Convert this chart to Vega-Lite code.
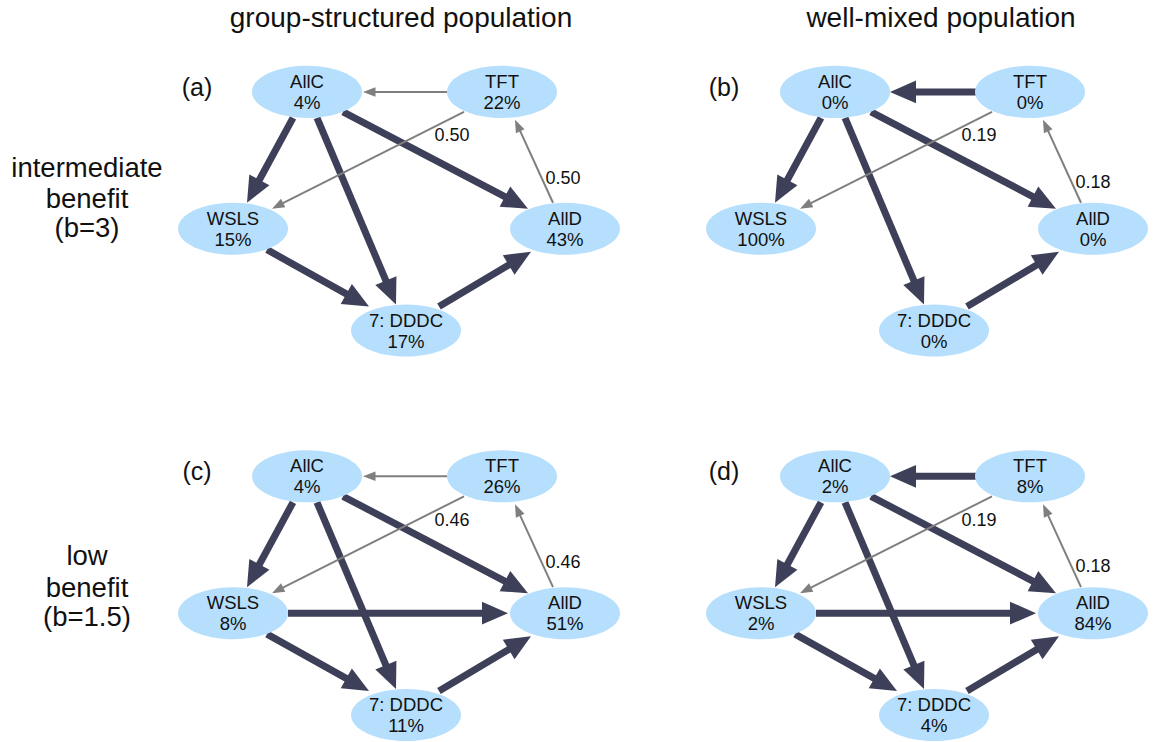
{
  "$schema": "https://vega.github.io/schema/vega-lite/v6.json",
  "width": 1157,
  "height": 742,
  "autosize": {"type": "fit", "contains": "padding"},
  "padding": 0,
  "background": "white",
  "config": {"view": {"stroke": null}, "text": {"font": "Liberation Sans"}},
  "datasets": {
    "nodes": [
      {"p": "a", "name": "AllC", "pct": "4%", "x": 307, "y": 92},
      {"p": "a", "name": "TFT", "pct": "22%", "x": 502, "y": 92},
      {"p": "a", "name": "WSLS", "pct": "15%", "x": 233, "y": 229},
      {"p": "a", "name": "AllD", "pct": "43%", "x": 565, "y": 229},
      {"p": "a", "name": "7: DDDC", "pct": "17%", "x": 406, "y": 331},
      {"p": "b", "name": "AllC", "pct": "0%", "x": 835, "y": 92},
      {"p": "b", "name": "TFT", "pct": "0%", "x": 1030, "y": 92},
      {"p": "b", "name": "WSLS", "pct": "100%", "x": 761, "y": 229},
      {"p": "b", "name": "AllD", "pct": "0%", "x": 1093, "y": 229},
      {"p": "b", "name": "7: DDDC", "pct": "0%", "x": 934, "y": 331},
      {"p": "c", "name": "AllC", "pct": "4%", "x": 307, "y": 477},
      {"p": "c", "name": "TFT", "pct": "26%", "x": 502, "y": 477},
      {"p": "c", "name": "WSLS", "pct": "8%", "x": 233, "y": 614},
      {"p": "c", "name": "AllD", "pct": "51%", "x": 565, "y": 614},
      {"p": "c", "name": "7: DDDC", "pct": "11%", "x": 406, "y": 716},
      {"p": "d", "name": "AllC", "pct": "2%", "x": 835, "y": 477},
      {"p": "d", "name": "TFT", "pct": "8%", "x": 1030, "y": 477},
      {"p": "d", "name": "WSLS", "pct": "2%", "x": 761, "y": 614},
      {"p": "d", "name": "AllD", "pct": "84%", "x": 1093, "y": 614},
      {"p": "d", "name": "7: DDDC", "pct": "4%", "x": 934, "y": 716}
    ],
    "edges": [
      {"p": "a", "from": "TFT", "to": "AllC", "w": "thin", "xs": 447, "ys": 92, "xt": 363, "yt": 92},
      {"p": "a", "from": "TFT", "to": "WSLS", "w": "thin", "xs": 464, "ys": 112, "xt": 272, "yt": 209},
      {"p": "a", "from": "AllD", "to": "TFT", "w": "thin", "xs": 553, "ys": 203, "xt": 515, "yt": 120},
      {"p": "a", "from": "AllC", "to": "WSLS", "w": "thick", "xs": 293, "ys": 118, "xt": 247, "yt": 203},
      {"p": "a", "from": "AllC", "to": "DDDC", "w": "thick", "xs": 317, "ys": 118, "xt": 396, "yt": 305},
      {"p": "a", "from": "AllC", "to": "AllD", "w": "thick", "xs": 343, "ys": 112, "xt": 528, "yt": 209},
      {"p": "a", "from": "WSLS", "to": "DDDC", "w": "thick", "xs": 267, "ys": 250, "xt": 369, "yt": 307},
      {"p": "a", "from": "DDDC", "to": "AllD", "w": "thick", "xs": 439, "ys": 307, "xt": 531, "yt": 252},
      {"p": "b", "from": "TFT", "to": "AllC", "w": "thick", "xs": 976, "ys": 92, "xt": 890, "yt": 92},
      {"p": "b", "from": "TFT", "to": "WSLS", "w": "thin", "xs": 992, "ys": 112, "xt": 800, "yt": 209},
      {"p": "b", "from": "AllD", "to": "TFT", "w": "thin", "xs": 1081, "ys": 203, "xt": 1043, "yt": 120},
      {"p": "b", "from": "AllC", "to": "WSLS", "w": "thick", "xs": 821, "ys": 118, "xt": 775, "yt": 203},
      {"p": "b", "from": "AllC", "to": "DDDC", "w": "thick", "xs": 845, "ys": 118, "xt": 924, "yt": 305},
      {"p": "b", "from": "AllC", "to": "AllD", "w": "thick", "xs": 871, "ys": 112, "xt": 1056, "yt": 209},
      {"p": "b", "from": "DDDC", "to": "AllD", "w": "thick", "xs": 967, "ys": 307, "xt": 1059, "yt": 252},
      {"p": "c", "from": "TFT", "to": "AllC", "w": "thin", "xs": 447, "ys": 477, "xt": 363, "yt": 477},
      {"p": "c", "from": "TFT", "to": "WSLS", "w": "thin", "xs": 464, "ys": 497, "xt": 272, "yt": 594},
      {"p": "c", "from": "AllD", "to": "TFT", "w": "thin", "xs": 553, "ys": 588, "xt": 515, "yt": 505},
      {"p": "c", "from": "AllC", "to": "WSLS", "w": "thick", "xs": 293, "ys": 503, "xt": 247, "yt": 588},
      {"p": "c", "from": "AllC", "to": "DDDC", "w": "thick", "xs": 317, "ys": 503, "xt": 396, "yt": 690},
      {"p": "c", "from": "AllC", "to": "AllD", "w": "thick", "xs": 343, "ys": 497, "xt": 528, "yt": 594},
      {"p": "c", "from": "WSLS", "to": "DDDC", "w": "thick", "xs": 267, "ys": 635, "xt": 369, "yt": 692},
      {"p": "c", "from": "DDDC", "to": "AllD", "w": "thick", "xs": 439, "ys": 692, "xt": 531, "yt": 637},
      {"p": "c", "from": "WSLS", "to": "AllD", "w": "thick", "xs": 288, "ys": 614, "xt": 508, "yt": 614},
      {"p": "d", "from": "TFT", "to": "AllC", "w": "thick", "xs": 976, "ys": 477, "xt": 890, "yt": 477},
      {"p": "d", "from": "TFT", "to": "WSLS", "w": "thin", "xs": 992, "ys": 497, "xt": 800, "yt": 594},
      {"p": "d", "from": "AllD", "to": "TFT", "w": "thin", "xs": 1081, "ys": 588, "xt": 1043, "yt": 505},
      {"p": "d", "from": "AllC", "to": "WSLS", "w": "thick", "xs": 821, "ys": 503, "xt": 775, "yt": 588},
      {"p": "d", "from": "AllC", "to": "DDDC", "w": "thick", "xs": 845, "ys": 503, "xt": 924, "yt": 690},
      {"p": "d", "from": "AllC", "to": "AllD", "w": "thick", "xs": 871, "ys": 497, "xt": 1056, "yt": 594},
      {"p": "d", "from": "WSLS", "to": "DDDC", "w": "thick", "xs": 795, "ys": 635, "xt": 897, "yt": 692},
      {"p": "d", "from": "DDDC", "to": "AllD", "w": "thick", "xs": 967, "ys": 692, "xt": 1059, "yt": 637},
      {"p": "d", "from": "WSLS", "to": "AllD", "w": "thick", "xs": 816, "ys": 614, "xt": 1036, "yt": 614}
    ],
    "edgeLabels": [
      {"p": "a", "text": "0.50", "x": 452, "y": 141},
      {"p": "a", "text": "0.50", "x": 563, "y": 184},
      {"p": "b", "text": "0.19", "x": 979, "y": 141},
      {"p": "b", "text": "0.18", "x": 1093, "y": 188},
      {"p": "c", "text": "0.46", "x": 452, "y": 527},
      {"p": "c", "text": "0.46", "x": 563, "y": 569},
      {"p": "d", "text": "0.19", "x": 979, "y": 527},
      {"p": "d", "text": "0.18", "x": 1093, "y": 573}
    ],
    "annotations": [
      {"kind": "title", "text": "group-structured population", "x": 401, "y": 27},
      {"kind": "title", "text": "well-mixed population", "x": 941, "y": 27},
      {"kind": "row", "text": "intermediate", "x": 87, "y": 177},
      {"kind": "row", "text": "benefit", "x": 87, "y": 208},
      {"kind": "row", "text": "(b=3)", "x": 87, "y": 237},
      {"kind": "row", "text": "low", "x": 87, "y": 566},
      {"kind": "row", "text": "benefit", "x": 87, "y": 598},
      {"kind": "row", "text": "(b=1.5)", "x": 87, "y": 627},
      {"kind": "letter", "text": "(a)", "x": 197, "y": 96},
      {"kind": "letter", "text": "(b)", "x": 724, "y": 96},
      {"kind": "letter", "text": "(c)", "x": 197, "y": 481},
      {"kind": "letter", "text": "(d)", "x": 724, "y": 481}
    ]
  },
  "layer": [
    {
      "data": {"name": "edges"},
      "transform": [
        {"filter": "datum.w === 'thick'"},
        {"calculate": "datum.xt - datum.xs", "as": "dx"},
        {"calculate": "datum.yt - datum.ys", "as": "dy"},
        {"calculate": "sqrt(datum.dx * datum.dx + datum.dy * datum.dy)", "as": "len"},
        {"calculate": "datum.xt - 23 * datum.dx / datum.len", "as": "xe"},
        {"calculate": "datum.yt - 23 * datum.dy / datum.len", "as": "ye"}
      ],
      "mark": {"type": "rule", "color": "#3e3f58", "strokeWidth": 7, "strokeCap": "butt"},
      "encoding": {
        "x": {"field": "xs", "type": "quantitative", "scale": {"domain": [0, 1157], "nice": false, "zero": false}, "axis": null},
        "y": {"field": "ys", "type": "quantitative", "scale": {"domain": [0, 742], "nice": false, "zero": false, "reverse": true}, "axis": null},
        "x2": {"field": "xe"},
        "y2": {"field": "ye"}
      }
    },
    {
      "data": {"name": "edges"},
      "transform": [
        {"filter": "datum.w === 'thick'"},
        {"calculate": "datum.xt - datum.xs", "as": "dx"},
        {"calculate": "datum.yt - datum.ys", "as": "dy"},
        {"calculate": "atan2(datum.dx, -datum.dy) * 180 / PI", "as": "ang"}
      ],
      "mark": {"type": "point", "shape": "M0,0L-0.44,1L0.44,1Z", "size": 2704, "filled": true, "color": "#3e3f58", "opacity": 1, "strokeWidth": 0},
      "encoding": {
        "x": {"field": "xt", "type": "quantitative", "scale": {"domain": [0, 1157], "nice": false, "zero": false}, "axis": null},
        "y": {"field": "yt", "type": "quantitative", "scale": {"domain": [0, 742], "nice": false, "zero": false, "reverse": true}, "axis": null},
        "angle": {"field": "ang", "type": "quantitative", "scale": null}
      }
    },
    {
      "data": {"name": "edges"},
      "transform": [
        {"filter": "datum.w === 'thin'"},
        {"calculate": "datum.xt - datum.xs", "as": "dx"},
        {"calculate": "datum.yt - datum.ys", "as": "dy"},
        {"calculate": "sqrt(datum.dx * datum.dx + datum.dy * datum.dy)", "as": "len"},
        {"calculate": "datum.xt - 10 * datum.dx / datum.len", "as": "xe"},
        {"calculate": "datum.yt - 10 * datum.dy / datum.len", "as": "ye"}
      ],
      "mark": {"type": "rule", "color": "#7f7f7f", "strokeWidth": 2, "strokeCap": "butt"},
      "encoding": {
        "x": {"field": "xs", "type": "quantitative", "scale": {"domain": [0, 1157], "nice": false, "zero": false}, "axis": null},
        "y": {"field": "ys", "type": "quantitative", "scale": {"domain": [0, 742], "nice": false, "zero": false, "reverse": true}, "axis": null},
        "x2": {"field": "xe"},
        "y2": {"field": "ye"}
      }
    },
    {
      "data": {"name": "edges"},
      "transform": [
        {"filter": "datum.w === 'thin'"},
        {"calculate": "datum.xt - datum.xs", "as": "dx"},
        {"calculate": "datum.yt - datum.ys", "as": "dy"},
        {"calculate": "atan2(datum.dx, -datum.dy) * 180 / PI", "as": "ang"}
      ],
      "mark": {"type": "point", "shape": "M0,0L-0.38,1L0.38,1Z", "size": 625, "filled": true, "color": "#7f7f7f", "opacity": 1, "strokeWidth": 0},
      "encoding": {
        "x": {"field": "xt", "type": "quantitative", "scale": {"domain": [0, 1157], "nice": false, "zero": false}, "axis": null},
        "y": {"field": "yt", "type": "quantitative", "scale": {"domain": [0, 742], "nice": false, "zero": false, "reverse": true}, "axis": null},
        "angle": {"field": "ang", "type": "quantitative", "scale": null}
      }
    },
    {
      "data": {"name": "nodes"},
      "mark": {"type": "point", "shape": "M-1,0A1,0.473,0,1,1,1,0A1,0.473,0,1,1,-1,0Z", "size": 12100, "filled": true, "color": "#b5dffd", "opacity": 1, "strokeWidth": 0},
      "encoding": {
        "x": {"field": "x", "type": "quantitative", "scale": {"domain": [0, 1157], "nice": false, "zero": false}, "axis": null},
        "y": {"field": "y", "type": "quantitative", "scale": {"domain": [0, 742], "nice": false, "zero": false, "reverse": true}, "axis": null}
      }
    },
    {
      "data": {"name": "nodes"},
      "mark": {"type": "text", "fontSize": 18.5, "color": "#111111", "align": "center", "baseline": "alphabetic", "dy": -4},
      "encoding": {
        "x": {"field": "x", "type": "quantitative", "scale": {"domain": [0, 1157], "nice": false, "zero": false}, "axis": null},
        "y": {"field": "y", "type": "quantitative", "scale": {"domain": [0, 742], "nice": false, "zero": false, "reverse": true}, "axis": null},
        "text": {"field": "name"}
      }
    },
    {
      "data": {"name": "nodes"},
      "mark": {"type": "text", "fontSize": 18.5, "color": "#111111", "align": "center", "baseline": "alphabetic", "dy": 17},
      "encoding": {
        "x": {"field": "x", "type": "quantitative", "scale": {"domain": [0, 1157], "nice": false, "zero": false}, "axis": null},
        "y": {"field": "y", "type": "quantitative", "scale": {"domain": [0, 742], "nice": false, "zero": false, "reverse": true}, "axis": null},
        "text": {"field": "pct"}
      }
    },
    {
      "data": {"name": "edgeLabels"},
      "mark": {"type": "text", "fontSize": 18, "color": "#111111", "align": "center", "baseline": "alphabetic"},
      "encoding": {
        "x": {"field": "x", "type": "quantitative", "scale": {"domain": [0, 1157], "nice": false, "zero": false}, "axis": null},
        "y": {"field": "y", "type": "quantitative", "scale": {"domain": [0, 742], "nice": false, "zero": false, "reverse": true}, "axis": null},
        "text": {"field": "text"}
      }
    },
    {
      "data": {"name": "annotations"},
      "transform": [{"filter": "datum.kind === 'title'"}],
      "mark": {"type": "text", "fontSize": 28, "color": "#111111", "align": "center", "baseline": "alphabetic"},
      "encoding": {
        "x": {"field": "x", "type": "quantitative", "scale": {"domain": [0, 1157], "nice": false, "zero": false}, "axis": null},
        "y": {"field": "y", "type": "quantitative", "scale": {"domain": [0, 742], "nice": false, "zero": false, "reverse": true}, "axis": null},
        "text": {"field": "text"}
      }
    },
    {
      "data": {"name": "annotations"},
      "transform": [{"filter": "datum.kind === 'row'"}],
      "mark": {"type": "text", "fontSize": 27.5, "color": "#111111", "align": "center", "baseline": "alphabetic"},
      "encoding": {
        "x": {"field": "x", "type": "quantitative", "scale": {"domain": [0, 1157], "nice": false, "zero": false}, "axis": null},
        "y": {"field": "y", "type": "quantitative", "scale": {"domain": [0, 742], "nice": false, "zero": false, "reverse": true}, "axis": null},
        "text": {"field": "text"}
      }
    },
    {
      "data": {"name": "annotations"},
      "transform": [{"filter": "datum.kind === 'letter'"}],
      "mark": {"type": "text", "fontSize": 25, "color": "#111111", "align": "center", "baseline": "alphabetic"},
      "encoding": {
        "x": {"field": "x", "type": "quantitative", "scale": {"domain": [0, 1157], "nice": false, "zero": false}, "axis": null},
        "y": {"field": "y", "type": "quantitative", "scale": {"domain": [0, 742], "nice": false, "zero": false, "reverse": true}, "axis": null},
        "text": {"field": "text"}
      }
    }
  ]
}
